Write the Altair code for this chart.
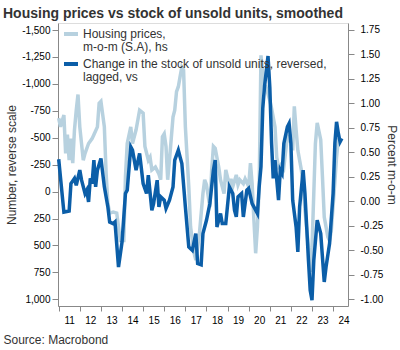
import altair as alt
import pandas as pd

# ---- data ----
units_dates = ["2011-01","2011-04","2011-07","2011-08","2011-10","2011-11","2012-01","2012-02","2012-04","2012-05",
               "2012-06","2012-07","2012-08","2012-09","2012-10","2012-11","2013-01","2013-03","2013-05","2013-06",
               "2013-08","2013-09","2013-11","2014-01","2014-03","2014-04","2014-06","2014-07","2014-09","2014-11",
               "2015-01","2015-03","2015-04","2015-06","2015-07","2015-09","2015-10","2015-11","2016-01","2016-02",
               "2016-04","2016-06","2016-07","2016-09","2016-10","2016-11","2017-01","2017-03","2017-05","2017-07",
               "2017-08","2017-10","2017-11","2018-01","2018-03","2018-05","2018-06","2018-07","2018-09","2018-10",
               "2018-12","2019-02","2019-04","2019-05","2019-06","2019-07","2019-09","2019-10","2019-12","2020-01",
               "2020-03","2020-04","2020-06","2020-07","2020-08","2020-09","2020-10","2020-12","2021-01","2021-02",
               "2021-03","2021-04","2021-06","2021-07","2021-08","2021-09","2021-11","2021-12","2022-01","2022-02",
               "2022-04","2022-05","2022-06","2022-08","2022-09","2022-11","2022-12","2023-01","2023-02","2023-04",
               "2023-06","2023-08","2023-09","2023-11","2024-01","2024-02","2024-03","2024-04","2024-05","2024-06"]
units_values = [-300, 190, 180, -75, -122, -59, -199, -106, 18, -13,
                96, -122, -75, -292, -44, -199, -308, -44, 142, 282,
                297, 282, 700, 468, 18, -13, -415, -385, -199, -354,
                -75, 18, -152, 173, 111, -106, 142, 49, 80, 157,
                80, -44, -292, -385, -322, -261, 142, 514, 545, 389,
                668, 680, 389, 266, 111, -199, -292, 328, 204, 297,
                297, -44, 18, 173, 235, 49, 18, 235, -13, -29,
                111, 142, 204, -44, -230, -772, -973, -1258, -970, -447,
                -122, -292, 80, -199, -168, -447, -601, -633, -447, 80,
                328, 560, 142, -199, 18, 638, 916, 1009, 638, 266,
                389, 839, 700, 482, 18, -447, -648, -540, -462, -493]

price_dates = ["2011-01","2011-02","2011-04","2011-05","2011-06","2011-07","2011-08","2011-09","2011-10","2011-11",
               "2011-12","2012-01","2012-03","2012-04","2012-06","2012-08","2012-09","2012-11","2012-12","2013-01",
               "2013-03","2013-04","2013-05","2013-06","2013-08","2013-10","2013-12","2014-02","2014-03","2014-04",
               "2014-06","2014-07","2014-09","2014-11","2015-01","2015-02","2015-04","2015-05","2015-06","2015-08",
               "2015-10","2015-11","2015-12","2016-01","2016-02","2016-03","2016-04","2016-06","2016-07","2016-08",
               "2016-09","2016-10","2016-11","2016-12","2017-01","2017-03","2017-04","2017-06","2017-07","2017-09",
               "2017-11","2017-12","2018-01","2018-03","2018-04","2018-05","2018-06","2018-08","2018-09","2018-11",
               "2018-12","2019-02","2019-03","2019-04","2019-06","2019-07","2019-08","2019-10","2019-11","2020-01",
               "2020-02","2020-03","2020-04","2020-05","2020-06","2020-07","2020-08","2020-09","2020-10","2020-11",
               "2021-01","2021-02","2021-04","2021-05","2021-06","2021-08","2021-09","2021-11","2021-12","2022-01",
               "2022-02","2022-03","2022-04","2022-05","2022-07","2022-08","2022-09","2022-11","2022-12","2023-01",
               "2023-02","2023-03","2023-04","2023-06","2023-07","2023-08","2023-10","2023-11","2023-12","2024-01",
               "2024-02","2024-03","2024-04","2024-05","2024-06"]
price_values = [0.85, 0.76, 0.88, 0.49, 0.68, 0.42, 0.64, 0.39, 0.73, 0.93,
                1.09, 0.76, 0.42, 0.49, 0.59, 0.64, 0.68, 0.76, 1.00, 1.02,
                0.76, 0.28, -0.02, -0.12, -0.11, -0.12, -0.40, -0.40, 0.25, 0.59,
                0.76, 0.59, 0.73, 0.93, 0.90, 0.56, 0.42, 0.45, 0.32, 0.35,
                0.28, 0.22, 0.66, 0.69, 0.56, 0.22, 0.42, 0.86, 0.93, 1.12,
                1.17, 1.27, 1.37, 1.34, 0.76, 0.15, -0.26, -0.53, -0.60, -0.33,
                0.08, 0.22, 0.17, -0.06, 0.32, 0.56, 0.54, 0.35, 0.22, 0.08,
                0.32, 0.17, 0.23, 0.15, 0.27, 0.17, 0.22, 0.18, 0.23, 0.15,
                0.39, 0.18, -0.19, -0.53, -0.26, 0.15, 1.49, 1.31, 1.14, 1.16,
                1.03, 0.95, 0.76, 0.45, 0.35, 0.39, 0.35, 0.66, 0.63, 0.68,
                0.52, 0.97, 0.73, 0.52, 0.32, 0.18, -0.09, -0.47, -0.72, -0.47,
                0.08, 0.59, 0.80, 0.63, 0.25, -0.16, -0.36, -0.40, -0.30, -0.05,
                0.20, 0.45, 0.63, 0.63, 0.62]

years = list(range(2011, 2025))
left_ticks = [-1500, -1250, -1000, -750, -500, -250, 0, 250, 500, 750, 1000]
right_ticks = [-1.0, -0.75, -0.5, -0.25, 0.0, 0.25, 0.5, 0.75, 1.0, 1.25, 1.5, 1.75]

LABEL_PRICE = "Housing prices,|m-o-m (S.A), hs"
LABEL_UNITS = "Change in the stock of unsold units, reversed,|lagged, vs"
LIGHT = "#b7d1df"
DARK = "#0b5ea8"
FONT = "Liberation Sans"

df_p = pd.DataFrame({"date": [d + "-01" for d in price_dates], "value": price_values, "series": LABEL_PRICE})
df_u = pd.DataFrame({"date": [d + "-01" for d in units_dates], "value": units_values, "series": LABEL_UNITS})

W, H = 290, 283

x_enc = alt.X(
    "date:T",
    scale=alt.Scale(type="utc", domain=[alt.DateTime(year=2010, month=12, date=20, utc=True),
                                        alt.DateTime(year=2024, month=9, date=15, utc=True)]),
    axis=alt.Axis(values=[alt.DateTime(year=y, month=1, date=1, utc=True) for y in years],
                  format="%y", labelOffset=10.5, tickSize=5, labelPadding=4, grid=False,
                  labelAngle=0, labelFlush=False, labelOverlap=False,
                  title="Source: Macrobond", titleX=-55, titleY=33, titleAlign="left",
                  titleBaseline="middle", titleFontWeight="normal", titleFontSize=12,
                  titleColor="#333333", titleFont=FONT),
)

color = alt.Color(
    "series:N",
    scale=alt.Scale(domain=[LABEL_PRICE, LABEL_UNITS], range=[LIGHT, DARK]),
    legend=alt.Legend(orient="none", legendX=4, legendY=2, title=None, symbolType="stroke",
                      symbolStrokeWidth=4, symbolSize=196, labelFontSize=12, labelLimit=400,
                      labelOffset=3, labelExpr="split(datum.label, '|')", rowPadding=2,
                      padding=0, labelColor="#333333", labelFont=FONT),
)

price = alt.Chart(df_p).mark_line(strokeWidth=3.5).encode(
    x=x_enc,
    y=alt.Y("value:Q",
            scale=alt.Scale(domain=[-1.068, 1.82], nice=False, zero=False),
            axis=alt.Axis(orient="right", values=right_ticks, grid=False, tickSize=6, labelPadding=6,
                          labelExpr="replace(format(datum.value, '.2f'), '\u2212', '-')",
                          title="Percent m-o-m", titleAngle=90, titleX=43, titleY=H / 2,
                          titleBaseline="middle", titleAlign="center", titleFontWeight="normal",
                          titleFontSize=12, titleColor="#333333", titleFont=FONT)),
    color=color,
)

units = alt.Chart(df_u).mark_line(strokeWidth=3.5).encode(
    x=x_enc,
    y=alt.Y("value:Q",
            scale=alt.Scale(domain=[-1565, 1062], reverse=True, nice=False, zero=False),
            axis=alt.Axis(orient="left", values=left_ticks, grid=False, tickSize=6, labelPadding=2,
                          labelExpr="replace(format(datum.value, ','), '\u2212', '-')",
                          title="Number, reverse scale", titleAngle=-90, titleX=-47, titleY=H / 2,
                          titleBaseline="middle", titleAlign="center", titleFontWeight="normal",
                          titleFontSize=12, titleColor="#333333", titleFont=FONT)),
    color=color,
)

chart = alt.layer(price, units).resolve_scale(y="independent").properties(
    width=W, height=H,
    autosize="none",
    padding={"left": 58, "top": 23, "right": 52, "bottom": 44},
    title=alt.TitleParams("Housing prices vs stock of unsold units, smoothed", anchor="start", dx=-55,
                          offset=2, fontSize=14, fontWeight="bold", color="#333333", font=FONT,
                          frame="group"),
).configure_view(stroke="#555555", strokeWidth=1).configure_axis(
    domainColor="#555555", tickColor="#555555", labelColor="#444444", labelFont=FONT, labelFontSize=11
).configure(background="white", style={"guide-label": {"lineHeight": 13}})

chart.save("out.html", embed_options={"renderer": "svg", "actions": False})
